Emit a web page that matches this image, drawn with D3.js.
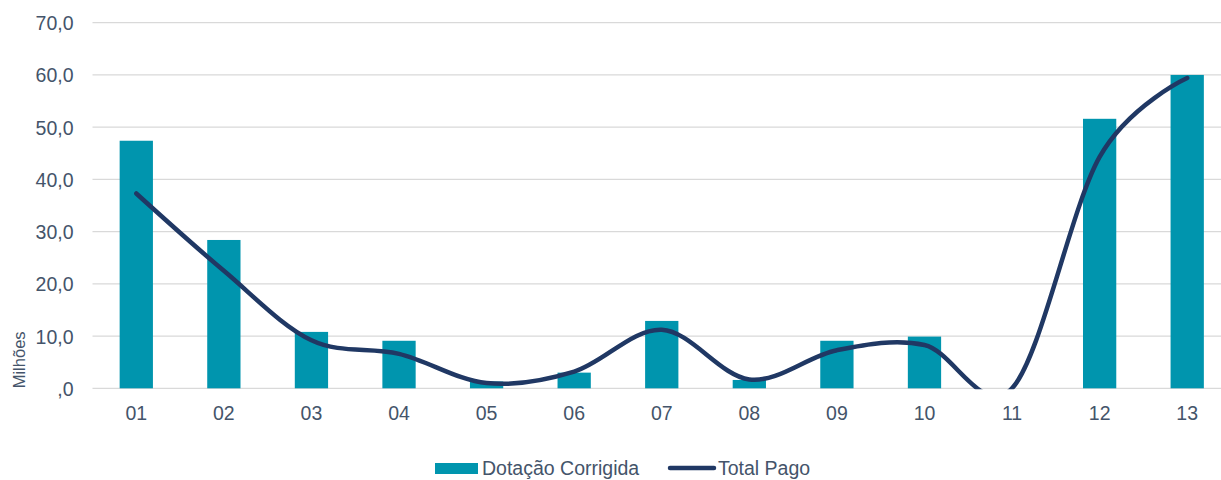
<!DOCTYPE html>
<html>
<head>
<meta charset="utf-8">
<script src="https://d3js.org/d3.v7.min.js"></script>
<style>
  body { margin: 0; background: #fff; }
  text { font-family: "Liberation Sans", Arial, sans-serif; fill: #44546A; }
</style>
</head>
<body>
<div id="chart"></div>
<script>
// dados
const categorias = ["01","02","03","04","05","06","07","08","09","10","11","12","13"];
const dotacaoCorrigida = [47.4, 28.4, 10.8, 9.1, 1.3, 3.0, 12.9, 1.6, 9.1, 9.9, 0, 51.6, 60.0];
const totalPago = [37.3, 22.5, 9.2, 6.6, 1.0, 3.2, 11.2, 1.7, 7.3, 8.3, 0, 44.3, 59.4];
const yTicks = [0, 10, 20, 30, 40, 50, 60, 70];

const width = 1221, height = 480;
const plotLeft = 92.5, plotRight = 1231, plotTop = 22.7, plotBottom = 388.3;

const svg = d3.select("#chart").append("svg")
  .attr("width", width).attr("height", height);

const x = d3.scaleBand().domain(categorias).range([plotLeft, plotRight]).paddingInner(0.62).paddingOuter(0.31);
const y = d3.scaleLinear().domain([0, 70]).range([plotBottom, plotTop]);

// grade
svg.append("g").selectAll("line").data(yTicks).join("line")
  .attr("x1", plotLeft).attr("x2", width)
  .attr("y1", d => y(d)).attr("y2", d => y(d))
  .attr("stroke", "#D9D9D9").attr("stroke-width", 1.3);

// eixo y
const fmt = d => d === 0 ? ",0" : d3.format(".1f")(d).replace(".", ",");
const yAxis = svg.append("g")
  .attr("transform", `translate(${plotLeft - 19},0)`)
  .call(d3.axisLeft(y).tickValues(yTicks).tickFormat(fmt).tickSize(0));
yAxis.select(".domain").remove();
yAxis.selectAll("text").attr("x", 0).attr("dy", "0.36em")
  .style("font-size", "19.5px").style("fill", "#44546A");

// eixo x
const xAxis = svg.append("g")
  .attr("transform", `translate(0,${plotBottom})`)
  .call(d3.axisBottom(x).tickSize(0));
xAxis.select(".domain").remove();
xAxis.selectAll("text").attr("y", 25).attr("dy", "0.36em")
  .style("font-size", "19.5px").style("fill", "#44546A");

// rótulo
svg.append("text")
  .attr("transform", `translate(25,${plotBottom}) rotate(-90)`)
  .attr("text-anchor", "start")
  .style("font-size", "16.5px")
  .text("Milhões");

// barras
svg.append("g").selectAll("rect").data(categorias).join("rect")
  .attr("x", d => x(d))
  .attr("width", x.bandwidth())
  .attr("y", (d, i) => y(dotacaoCorrigida[i]))
  .attr("height", (d, i) => y(0) - y(dotacaoCorrigida[i]))
  .attr("fill", "#0095AE");

// linha suavizada
svg.append("clipPath").attr("id", "clip")
  .append("rect").attr("x", 0).attr("y", 0).attr("width", width).attr("height", plotBottom + 1);

const line = d3.line()
  .x((d, i) => x(categorias[i]) + x.bandwidth() / 2)
  .y(d => y(d))
  .curve(d3.curveCatmullRom.alpha(0));

svg.append("path")
  .datum(totalPago)
  .attr("clip-path", "url(#clip)")
  .attr("d", line)
  .attr("fill", "none")
  .attr("stroke", "#203864")
  .attr("stroke-width", 4.5)
  .attr("stroke-linecap", "round")
  .attr("stroke-linejoin", "round");

// legenda
const leg = svg.append("g");
leg.append("rect").attr("x", 435).attr("y", 463).attr("width", 43).attr("height", 11).attr("fill", "#0095AE");
leg.append("text").attr("x", 482).attr("y", 468).attr("dy", "0.36em").style("font-size", "19.5px").text("Dotação Corrigida");
leg.append("line").attr("x1", 670).attr("x2", 714).attr("y1", 468).attr("y2", 468)
  .attr("stroke", "#203864").attr("stroke-width", 4.5).attr("stroke-linecap", "round");
leg.append("text").attr("x", 718).attr("y", 468).attr("dy", "0.36em").style("font-size", "19.5px").text("Total Pago");
</script>
</body>
</html>
